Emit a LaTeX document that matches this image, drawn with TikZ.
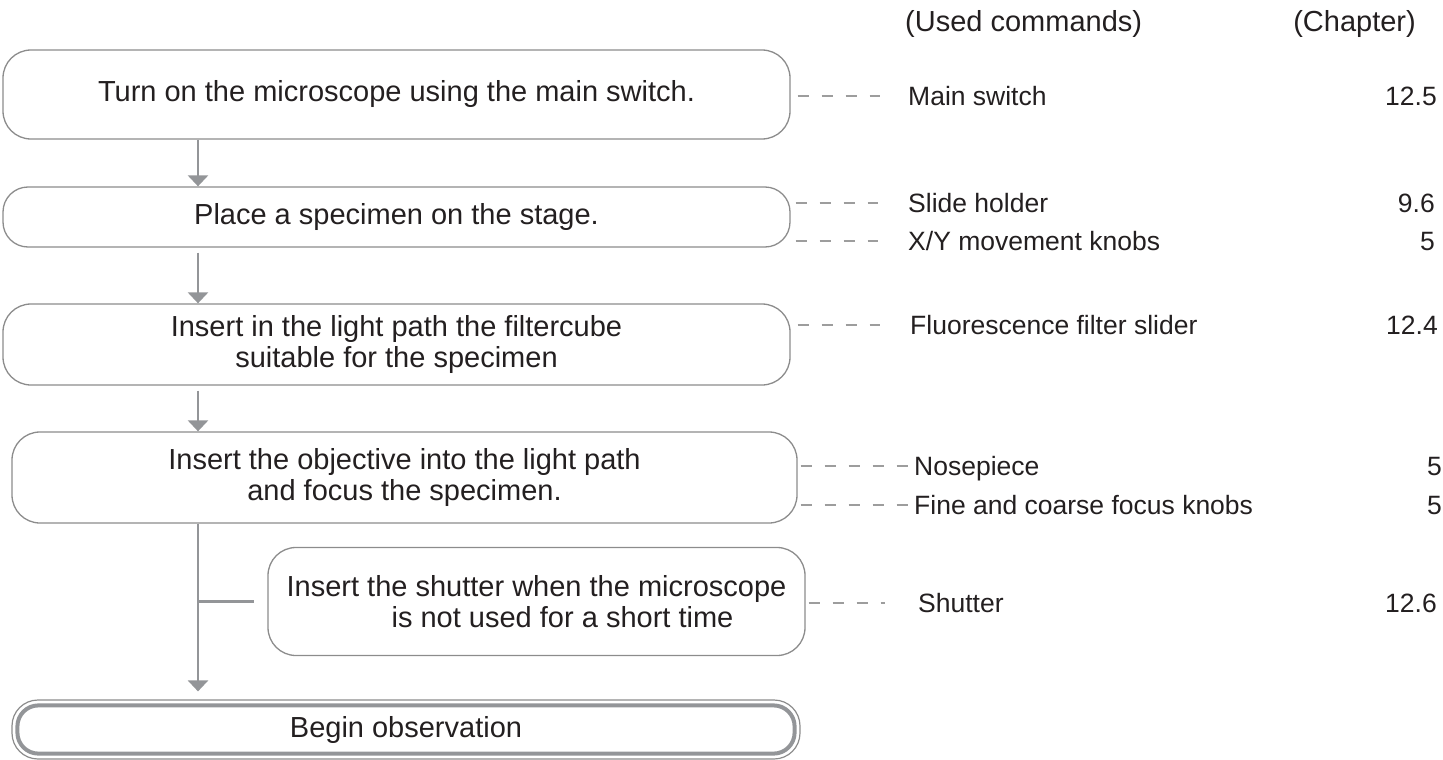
\documentclass[tikz,border=0pt]{standalone}
\usepackage{fontspec}
\setmainfont{Liberation Sans}
\usetikzlibrary{arrows.meta}
\definecolor{txt}{HTML}{231F20}
\definecolor{ln}{HTML}{939598}
\definecolor{bd}{HTML}{8C8C8C}
\definecolor{dsh}{HTML}{9D9D9D}
\begin{document}
\begin{tikzpicture}[x=1pt,y=-1pt,
  stepbox/.style={draw=bd, line width=1.3pt, rounded corners=28pt, inner sep=0pt,
    text=txt, font=\fontsize{29pt}{31pt}\selectfont, align=center},
  flowarrow/.style={draw=ln, line width=2.6pt, -{Triangle[width=20pt,length=11pt]}},
  branch/.style={draw=ln, line width=2.6pt},
  dashln/.style={draw=dsh, line width=2.4pt, dash pattern=on 11pt off 13pt},
  lab/.style={font=\fontsize{26.5pt}{28pt}\selectfont, text=txt, inner sep=0pt,
    text height=19pt, text depth=0pt},
  hdr/.style={font=\fontsize{29pt}{31pt}\selectfont, text=txt, inner sep=0pt}]
\useasboundingbox (0,0) rectangle (1443,760);

% headers
\node[hdr, anchor=west] (h1) at (905,24) {(Used commands)};
\node[hdr, anchor=east] (h2) at (1416,24) {(Chapter)};

% flow boxes
\node[stepbox, minimum width=787pt, minimum height=89pt] (b1) at (396.5,94.5)
  {Turn on the microscope using the main switch.};
\node[stepbox, minimum width=787pt, minimum height=60pt, rounded corners=25pt] (b2) at (396.5,217)
  {Place a specimen on the stage.};
\node[stepbox, minimum width=787pt, minimum height=81pt] (b3) at (396.5,344.5)
  {Insert in the light path the filtercube\\suitable for the specimen};
\node[stepbox, minimum width=785pt, minimum height=91pt] (b4) at (404.5,477.5)
  {Insert the objective into the light path\\and focus the specimen.};
\node[stepbox, minimum width=537pt, minimum height=108pt, align=left] (b5) at (536.5,601.5)
  {Insert the shutter when the microscope\\\hspace*{105pt}is not used for a short time};
\node[stepbox, draw=bd, line width=1.2pt, minimum width=788pt, minimum height=59pt, rounded corners=26pt] (b6) at (406,729.5)
  {Begin observation};
\draw[draw=ln, line width=4pt, rounded corners=21pt]
  ([xshift=6pt,yshift=-6pt]b6.north west) rectangle ([xshift=-6pt,yshift=6pt]b6.south east);

% spine and arrows
\coordinate (sp) at (198,0);
\draw[flowarrow] (b1.south -| sp) -- (b2.north -| sp);
\draw[flowarrow] ([yshift=-5pt]b2.south -| sp) -- (b3.north -| sp);
\draw[flowarrow] ([yshift=-5pt]b3.south -| sp) -- (b4.north -| sp);
\draw[flowarrow] (b4.south -| sp) -- ([yshift=8pt]b6.north -| sp);
\draw[branch] (sp |- b5.west) -- ([xshift=-13pt]b5.west);

% labels
\node[lab, anchor=west] (l1) at (908,96) {Main switch};
\node[lab, anchor=east] (c1) at (1437,96) {12.5};
\node[lab, anchor=west] (l2) at (908,203) {Slide holder};
\node[lab, anchor=east] (c2) at (1435,203) {9.6};
\node[lab, anchor=west] (l3) at (908,241) {X/Y movement knobs};
\node[lab, anchor=east] (c3) at (1435,241) {5};
\node[lab, anchor=west] (l4) at (910,325) {Fluorescence filter slider};
\node[lab, anchor=east] (c4) at (1438,325) {12.4};
\node[lab, anchor=west] (l5) at (914,466) {Nosepiece};
\node[lab, anchor=east] (c5) at (1442,466) {5};
\node[lab, anchor=west] (l6) at (914,505) {Fine and coarse focus knobs};
\node[lab, anchor=east] (c6) at (1442,505) {5};
\node[lab, anchor=west] (l7) at (918,603) {Shutter};
\node[lab, anchor=east] (c7) at (1437,603) {12.6};

% dashed connectors
\draw[dashln] ([xshift=7pt]b1.east |- l1.west) -- ([xshift=-28pt]l1.west);
\draw[dashln] ([xshift=5pt]b2.east |- l2.west) -- ([xshift=-30pt]l2.west);
\draw[dashln] ([xshift=5pt]b2.east |- l3.west) -- ([xshift=-30pt]l3.west);
\draw[dashln] ([xshift=7pt]b3.east |- l4.west) -- ([xshift=-30pt]l4.west);
\draw[dashln] ([xshift=3pt]b4.east |- l5.west) -- (l5.west);
\draw[dashln] ([xshift=3pt]b4.east |- l6.west) -- (l6.west);
\draw[dashln] ([xshift=3pt]b5.east |- l7.west) -- ([xshift=-33pt]l7.west);
\end{tikzpicture}
\end{document}
